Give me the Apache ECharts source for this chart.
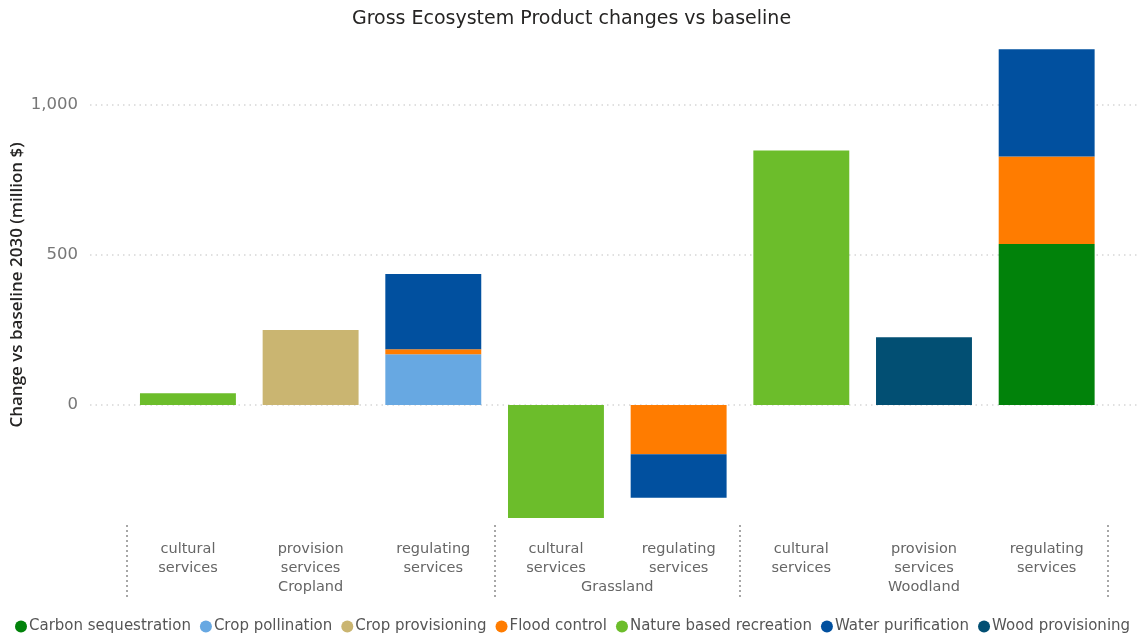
<!DOCTYPE html>
<html>
<head>
<meta charset="utf-8">
<script src="https://cdn.jsdelivr.net/npm/echarts@6/dist/echarts.min.js"></script>
<style>
html,body{margin:0;padding:0;background:#fff;}
#chart{width:1143px;height:635px;}
</style>
</head>
<body>
<div id="chart"></div>
<script>
const categories = ['cultural\nservices','provision\nservices','regulating\nservices','cultural\nservices','regulating\nservices','cultural\nservices','provision\nservices','regulating\nservices'];
const groups = ['Cropland','Grassland','Woodland'];
const groupSizes = [3, 2, 3];
const yTicks = [0, 500, 1000];

const carbonSequestration   = [null, null, null, null, null, null, null, 537];
const cropPollination       = [null, null, 169, null, null, null, null, null];
const cropProvisioning      = [null, 250, null, null, null, null, null, null];
const floodControl          = [null, null, 17, null, -164, null, null, 291];
const natureRecreation      = [39, null, null, -377, null, 848, null, null];
const waterPurification     = [null, null, 251, null, -145, null, null, 358];
const woodProvisioning      = [null, null, null, null, null, null, 226, null];

const seriesDefs = [
  ['Carbon sequestration', carbonSequestration, '#01820a'],
  ['Crop pollination', cropPollination, '#67a8e2'],
  ['Crop provisioning', cropProvisioning, '#cab571'],
  ['Flood control', floodControl, '#ff7c00'],
  ['Nature based recreation', natureRecreation, '#6cbd2b'],
  ['Water purification', waterPurification, '#01509f'],
  ['Wood provisioning', woodProvisioning, '#024f73']
];

// group centres and boundaries derived from group sizes
const groupBounds = [0];
groupSizes.forEach(s => groupBounds.push(groupBounds[groupBounds.length - 1] + s));
const groupCenters = groupSizes.map((s, i) => groupBounds[i] + s / 2);

const Y_MIN = -400, Y_MAX = 1200;
const FONT = '"DejaVu Sans", sans-serif';

const chart = echarts.init(document.getElementById('chart'));
chart.setOption({
  animation: false,
  title: {
    text: 'Gross Ecosystem Product changes vs baseline',
    left: 'center', top: 5,
    textStyle: {fontFamily: FONT, fontSize: 19, fontWeight: 'normal', color: '#252423'}
  },
  legend: {
    data: seriesDefs.map(d => d[0]),
    top: 614, left: 10,
    icon: 'circle', itemWidth: 12, itemHeight: 12, itemGap: 9,
    textStyle: {fontFamily: FONT, fontSize: 15, color: '#555', padding: [0, 0, 0, -3]}
  },
  grid: [
    {left: 90, right: 3, top: 45, height: 480, outerBoundsMode: 'none', containLabel: false},
    {left: 126.6, right: 35, top: 45, height: 480, outerBoundsMode: 'none', containLabel: false}
  ],
  xAxis: [
    {gridIndex: 0, type: 'value', show: false, min: 0, max: 1},
    {gridIndex: 1, type: 'category', data: categories, position: 'bottom',
     axisLine: {show: false}, axisTick: {show: false},
     axisLabel: {fontFamily: FONT, fontSize: 14.5, color: '#666', lineHeight: 19, margin: 15}},
    {gridIndex: 1, type: 'value', min: 0, max: groupBounds[groupBounds.length - 1], position: 'bottom',
     axisLine: {show: false}, splitLine: {show: false},
     axisTick: {show: true, length: 74, customValues: groupBounds,
                lineStyle: {color: '#8a8a8a', width: 1.5, type: [2, 3]}},
     axisLabel: {customValues: groupCenters, margin: 55, fontFamily: FONT, fontSize: 14.5, color: '#666',
                 formatter: v => { const i = groupCenters.indexOf(v); return i >= 0 ? groups[i] : ''; }}}
  ],
  yAxis: [
    {gridIndex: 0, type: 'value', min: Y_MIN, max: Y_MAX,
     name: 'Change vs baseline 2030 (million $)', nameLocation: 'middle', nameGap: 64,
     nameMoveOverlap: false,
     nameTextStyle: {fontFamily: '"Open Sans", sans-serif', fontSize: 17, fontWeight: 600, color: '#252423'},
     axisLine: {show: false},
     axisTick: {show: false, customValues: yTicks},
     axisLabel: {customValues: yTicks, margin: 12, fontFamily: FONT, fontSize: 16.5, color: '#777',
                 formatter: v => v.toLocaleString('en-US')},
     splitLine: {show: true, lineStyle: {color: '#d6d6d6', width: 1.5, type: [1.5, 4]}}},
    {gridIndex: 1, type: 'value', min: Y_MIN, max: Y_MAX, show: false, splitLine: {show: false}}
  ],
  series: seriesDefs.map(([name, data, color]) => ({
    name, type: 'bar', data, stack: 'total',
    xAxisIndex: 1, yAxisIndex: 1,
    barCategoryGap: '21.8%',
    itemStyle: {color}
  }))
});
</script>
</body>
</html>
